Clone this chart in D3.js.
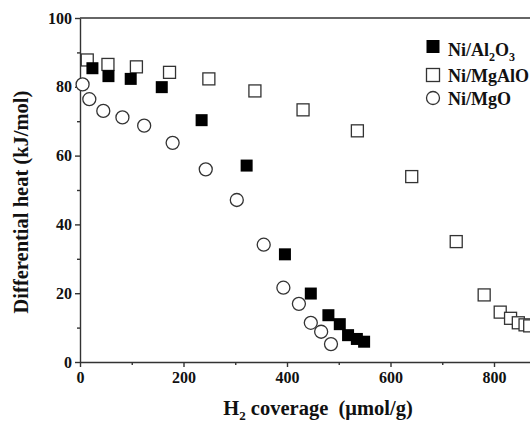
<!DOCTYPE html>
<html>
<head>
<meta charset="utf-8">
<script src="https://cdn.jsdelivr.net/npm/d3@7"></script>
<style>
  html, body { margin: 0; padding: 0; background: #fff; }
  #chart { width: 530px; height: 422px; overflow: hidden; }
  text { font-family: "Liberation Serif", "Times New Roman", serif; font-weight: bold; fill: #111; }
</style>
</head>
<body>
<div id="chart"></div>
<script>
// H2 coverage (umol/g) and differential heat (kJ/mol)
const al2o3X = [24, 55, 98, 158, 235, 322, 396, 446, 480, 502, 518, 535, 549];
const al2o3Y = [85.4, 83.1, 82.3, 79.9, 70.3, 57.1, 31.3, 19.9, 13.6, 11.0, 7.8, 6.7, 5.9];

const mgaloX = [14, 54, 109, 173, 249, 338, 431, 536, 641, 727, 781, 812, 832, 847, 860, 869];
const mgaloY = [87.8, 86.5, 85.8, 84.2, 82.3, 78.8, 73.3, 67.2, 53.9, 35.0, 19.5, 14.5, 12.7, 11.4, 10.8, 10.5];

const mgoX = [5, 18, 45, 82, 124, 179, 243, 303, 355, 393, 423, 446, 466, 485];
const mgoY = [80.7, 76.4, 73.0, 71.1, 68.7, 63.7, 56.0, 47.1, 34.1, 21.6, 16.9, 11.4, 8.8, 5.2];

const xTicks = [0, 200, 400, 600, 800];
const xMinor = [100, 300, 500, 700, 900];
const yTicks = [0, 20, 40, 60, 80, 100];
const yMinor = [10, 30, 50, 70, 90];

const seriesNames = ["Ni/Al2O3", "Ni/MgAlO", "Ni/MgO"];

const width = 530, height = 422;
const margin = { top: 18, left: 80, bottom: 60 };

const svg = d3.select("#chart").append("svg")
    .attr("width", width)
    .attr("height", height);

const x = d3.scaleLinear().domain([0, 1000]).range([margin.left, margin.left + 1000 * 0.5175]);
const y = d3.scaleLinear().domain([0, 100]).range([height - margin.bottom, margin.top]);

const axisColor = "#333";

// frame top line
svg.append("line")
    .attr("x1", x(0)).attr("x2", x(1000))
    .attr("y1", y(100)).attr("y2", y(100))
    .attr("stroke", axisColor).attr("stroke-width", 1.4);

// axes
svg.append("g")
    .attr("transform", `translate(0,${y(0)})`)
    .call(d3.axisBottom(x).tickValues(xTicks).tickSize(5).tickPadding(5).tickSizeOuter(0));
svg.append("g")
    .attr("transform", `translate(0,${y(0)})`)
    .call(d3.axisBottom(x).tickValues(xMinor).tickSize(3).tickFormat("").tickSizeOuter(0))
    .select(".domain").remove();

svg.append("g")
    .attr("transform", `translate(${x(0)},0)`)
    .call(d3.axisLeft(y).tickValues(yTicks).tickSize(5).tickPadding(3).tickSizeOuter(0));
svg.append("g")
    .attr("transform", `translate(${x(0)},0)`)
    .call(d3.axisLeft(y).tickValues(yMinor).tickSize(3).tickFormat("").tickSizeOuter(0))
    .select(".domain").remove();

svg.selectAll(".domain, .tick line")
    .attr("stroke", axisColor).attr("stroke-width", 1.4);
svg.selectAll(".tick text")
    .style("font-size", "16px")
    .style("font-family", "'Liberation Serif', serif")
    .style("font-weight", "bold")
    .attr("fill", "#111");

// axis titles
svg.append("text")
    .attr("transform", `translate(28,${y(46.5)}) rotate(-90)`)
    .attr("text-anchor", "middle")
    .style("font-size", "20.5px")
    .text("Differential heat (kJ/mol)");

const xt = svg.append("text")
    .attr("x", 318).attr("y", 415)
    .attr("text-anchor", "middle")
    .style("font-size", "20.5px")
    .attr("xml:space", "preserve");
xt.append("tspan").text("H");
xt.append("tspan").attr("dy", 5).style("font-size", "13px").text("2");
xt.append("tspan").attr("dy", -5).text(" coverage  (\u03bcmol/g)");

// markers
const sq = 12, r = 6.5;
const pts = (xs, ys) => xs.map((v, i) => ({ x: v, y: ys[i] }));

svg.append("g").selectAll("rect")
    .data(pts(mgaloX, mgaloY))
    .join("rect")
    .attr("x", d => x(d.x) - sq / 2)
    .attr("y", d => y(d.y) - sq / 2)
    .attr("width", sq).attr("height", sq)
    .attr("fill", "#fff").attr("stroke", "#333").attr("stroke-width", 1.3);

svg.append("g").selectAll("circle")
    .data(pts(mgoX, mgoY))
    .join("circle")
    .attr("cx", d => x(d.x))
    .attr("cy", d => y(d.y))
    .attr("r", r)
    .attr("fill", "#fff").attr("stroke", "#333").attr("stroke-width", 1.3);

svg.append("g").selectAll("rect")
    .data(pts(al2o3X, al2o3Y))
    .join("rect")
    .attr("x", d => x(d.x) - sq / 2)
    .attr("y", d => y(d.y) - sq / 2)
    .attr("width", sq).attr("height", sq)
    .attr("fill", "#000");

// legend
const lg = svg.append("g");
const lx = 433, ltx = 448;
lg.append("rect").attr("x", lx - 6.5).attr("y", 40).attr("width", 13).attr("height", 13).attr("fill", "#000");
lg.append("rect").attr("x", lx - 6.5).attr("y", 68.5).attr("width", 13).attr("height", 13)
    .attr("fill", "#fff").attr("stroke", "#333").attr("stroke-width", 1.3);
lg.append("circle").attr("cx", lx).attr("cy", 98).attr("r", 6.5)
    .attr("fill", "#fff").attr("stroke", "#333").attr("stroke-width", 1.3);

const t1 = lg.append("text").attr("x", ltx).attr("y", 56).style("font-size", "18px");
t1.append("tspan").text("Ni/Al");
t1.append("tspan").attr("dy", 5).style("font-size", "12px").text("2");
t1.append("tspan").attr("dy", -5).text("O");
t1.append("tspan").attr("dy", 5).style("font-size", "12px").text("3");

lg.append("text").attr("x", ltx).attr("y", 82).style("font-size", "18px").text(seriesNames[1]);
lg.append("text").attr("x", ltx).attr("y", 105).style("font-size", "18px").text(seriesNames[2]);
</script>
</body>
</html>
